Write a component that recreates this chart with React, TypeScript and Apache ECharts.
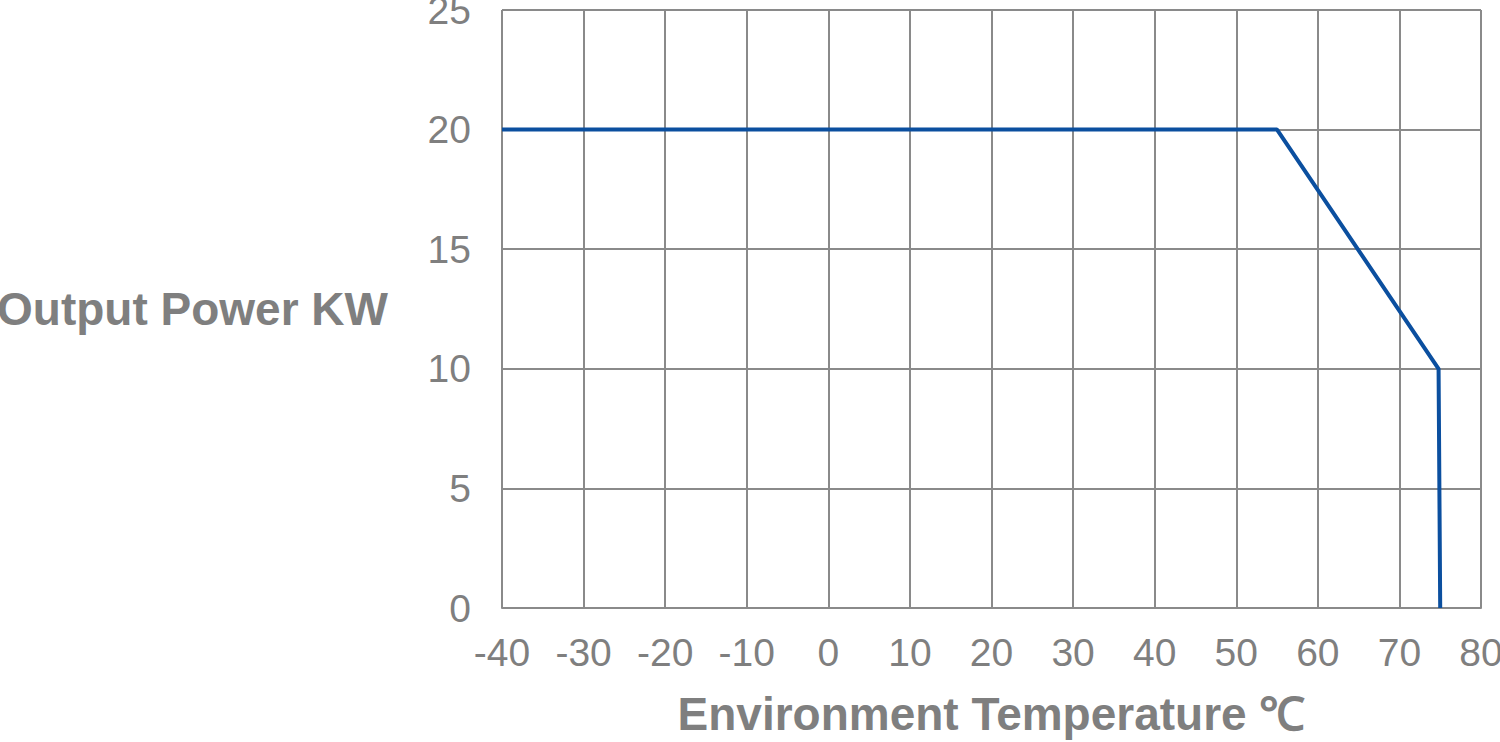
import React, { useEffect, useRef } from "react";
import * as echarts from "echarts";

const xTicks = [-40, -30, -20, -10, 0, 10, 20, 30, 40, 50, 60, 70, 80];
const yTicks = [0, 5, 10, 15, 20, 25];
const temperature = [-40, 55, 74.8, 75];
const outputPower = [20, 20, 10, 0];
const xName = "Environment Temperature ℃";
const yName = "Output Power KW";

export default function App() {
  const ref = useRef<HTMLDivElement>(null);
  useEffect(() => {
    if (!ref.current) return;
    const chart = echarts.init(ref.current, null, { renderer: "svg" });
    const gray = "#8a8a8a";
    const textGray = "#7f7f7f";
    const font = "'Liberation Sans', Arial, sans-serif";
    chart.setOption({
      animation: false,
      grid: { left: 502, right: 19, top: 10, bottom: 134, outerBoundsMode: "none", containLabel: false },
      xAxis: {
        type: "value",
        min: xTicks[0],
        max: xTicks[xTicks.length - 1],
        interval: 10,
        name: xName,
        nameLocation: "middle",
        nameGap: 83,
        nameTextStyle: { color: textGray, fontSize: 46, fontWeight: "bold", fontFamily: font },
        axisLine: { lineStyle: { color: gray, width: 2 } },
        axisTick: { show: false },
        axisLabel: { color: textGray, fontSize: 39, fontFamily: font, margin: 25 },
        splitLine: { show: true, lineStyle: { color: gray, width: 2 } },
      },
      yAxis: {
        type: "value",
        min: yTicks[0],
        max: yTicks[yTicks.length - 1],
        interval: 5,
        name: yName,
        nameLocation: "middle",
        nameRotate: 0,
        nameGap: 114,
        nameTextStyle: { color: textGray, fontSize: 46, fontWeight: "bold", fontFamily: font, align: "right" },
        axisLine: { show: true, lineStyle: { color: gray, width: 2 } },
        axisTick: { show: false },
        axisLabel: { color: textGray, fontSize: 39, fontFamily: font, margin: 31 },
        splitLine: { show: true, lineStyle: { color: gray, width: 2 } },
      },
      series: [
        {
          type: "line",
          data: temperature.map((t, i) => [t, outputPower[i]]),
          showSymbol: false,
          lineStyle: { color: "#0b4f9f", width: 4 },
          z: 5,
        },
      ],
    });
    return () => chart.dispose();
  }, []);
  return (
    <div
      ref={ref}
      style={{ position: "fixed", left: 0, top: 0, width: 1500, height: 742, background: "#fff" }}
    />
  );
}
